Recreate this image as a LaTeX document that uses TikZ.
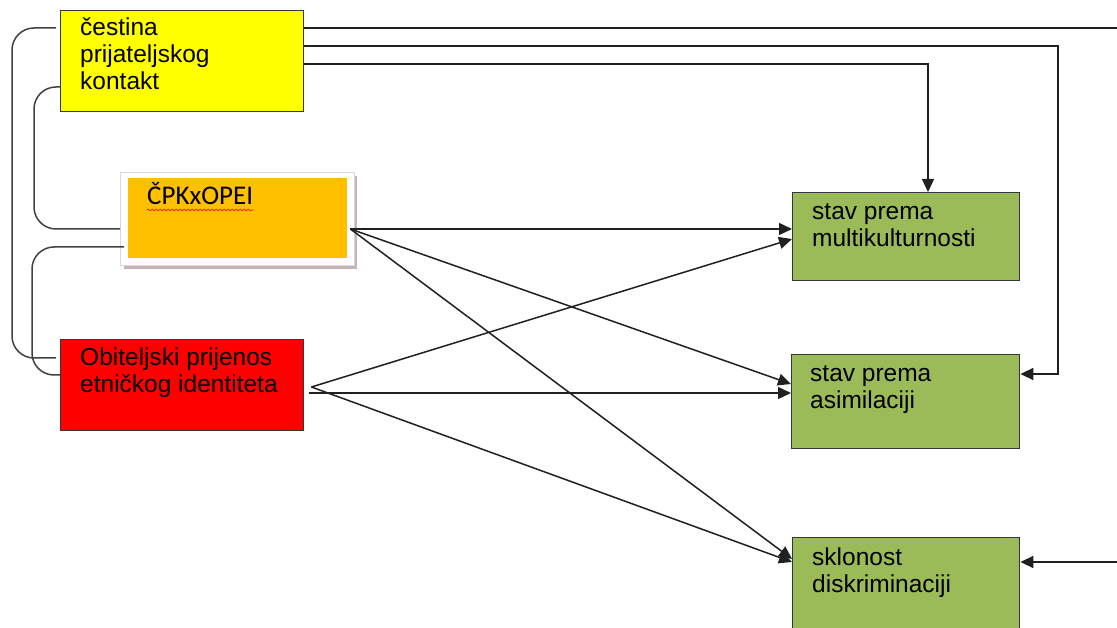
\documentclass[tikz,border=0pt]{standalone}
\usepackage{fontspec}
\setmainfont{Liberation Sans}
\newfontfamily\calib{Carlito}
\usetikzlibrary{calc,arrows.meta,decorations.pathmorphing}
\definecolor{yel}{HTML}{FFFF00}
\definecolor{org}{HTML}{FFC000}
\definecolor{rd}{HTML}{FF0000}
\definecolor{grn}{HTML}{9BBB59}
\definecolor{ln}{HTML}{202020}
\definecolor{shd}{HTML}{C9B4B4}
\begin{document}
\begin{tikzpicture}[x=1pt,y=-1pt,
  box/.style={draw=ln!90,line width=1.4pt,inner sep=0pt,anchor=north west},
  txt/.style={anchor=base west,inner sep=0pt,align=left,font=\fontsize{24.5}{27}\selectfont},
  conn/.style={line width=1.5pt,draw=ln},
  arr/.style={conn,-{Triangle[length=13pt,width=12pt]}},
  brk/.style={conn,draw=ln!85,rounded corners=22pt}]
\useasboundingbox (0,0) rectangle (1117,628);
\clip (0,0) rectangle (1117,628);
\fill[white] (0,0) rectangle (1117,628);
% boxes
\node[box,fill=yel,minimum width=243pt,minimum height=101pt] (yb) at (60,10) {};
\node[txt] (yt) at (80,90) {čestina\\prijateljskog\\kontakt};
% cpk frame
\fill[shd] (124,176) rectangle (357,269);
\fill[white,draw=gray!30,line width=0.8pt] (120,172) rectangle (354,265);
\node[inner sep=0pt,anchor=north west,fill=org,minimum width=219pt,minimum height=80pt] (cpk) at (128,178) {};
\node[anchor=base west,inner sep=0pt,font=\calib\fontsize{27}{30}\selectfont] (ct) at (147,205) {ČPKxOPEI};
\draw[rd,line width=0.7pt,decorate,decoration={snake,amplitude=1pt,segment length=4pt}] ($(ct.base west)+(0,5)$) -- ($(ct.base east)+(0,5)$);
\node[box,fill=rd,minimum width=243pt,minimum height=91pt] (rb) at (60,339) {};
\node[txt] (rt) at (80,392) {Obiteljski prijenos\\etničkog identiteta};
\node[box,fill=grn,minimum width=227pt,minimum height=88pt] (g1) at (792,192) {};
\node[txt] (g1t) at (812,247) {stav prema\\multikulturnosti};
\node[box,fill=grn,minimum width=228pt,minimum height=94pt] (g2) at (791,354) {};
\node[txt] (g2t) at (810,408) {stav prema\\asimilaciji};
\node[box,fill=grn,minimum width=227pt,minimum height=130pt] (g3) at (792,537) {};
\node[txt] (g3t) at (812,592) {sklonost\\diskriminaciji};
% right loops
\coordinate (far) at (1140,0);
\draw[arr] ($(yb.north east)+(0,18)$) -- ($(far)+(0,28)$) -- ($(far)+(0,562)$) -- ($(g3.north east)+(0,25)$);
\draw[arr] ($(yb.north east)+(0,36)$) -- (1058,46) -- (1058,374) -- ($(g2.north east)+(0,20)$);
\draw[arr] ($(yb.north east)+(0,54)$) -- (928,64) -- ($(g1.north west)+(136,0)$);
% left brackets
\draw[brk] ($(yb.north west)+(-4,18)$) -- (12,28) -- (12,358) -- ($(rb.north west)+(-4,19)$);
\draw[brk] ($(yb.north west)+(0,77)$) -- (34,87) -- (34,229) -- ($(cpk.north west)+(-8,51)$);
\draw[brk] ($(cpk.north west)+(-4,69)$) -- (32,247) -- (32,375) -- ($(rb.north west)+(0,36)$);
% main arrows
\coordinate (cs) at ($(cpk.north east)+(3,51)$);
\coordinate (rs) at ($(rb.north east)+(7,48)$);
\draw[arr] (cs) -- ($(g1.north west)+(0,37)$);
\draw[arr] (cs) -- ($(g2.north west)+(0,30)$);
\draw[arr] (cs) -- ($(g3.north west)+(0,22)$);
\draw[arr] (rs) -- ($(g1.north west)+(0,47)$);
\draw[arr] ($(rb.north east)+(5,54)$) -- ($(g2.north west)+(0,39)$);
\draw[arr] (rs) -- ($(g3.north west)+(0,25)$);
\end{tikzpicture}
\end{document}
